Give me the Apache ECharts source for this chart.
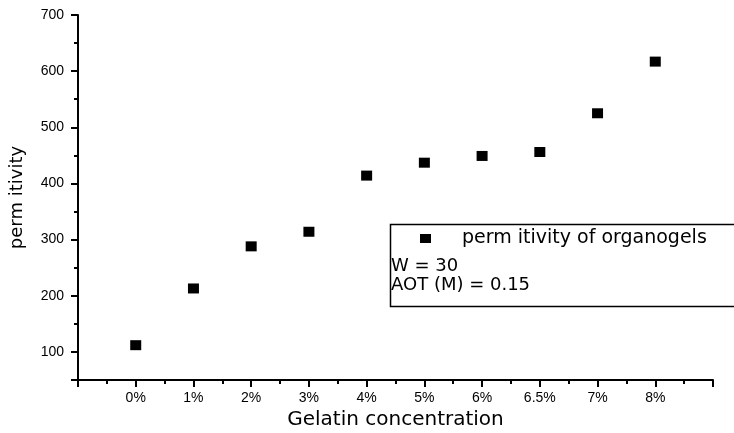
<!doctype html>
<html>
<head>
<meta charset="utf-8">
<title>permitivity</title>
<script src="https://cdn.jsdelivr.net/npm/echarts@6/dist/echarts.min.js"></script>
<style>
  html, body { margin: 0; padding: 0; background: #fff; }
  #chart { width: 734px; height: 433px; }
</style>
</head>
<body>
<div id="chart"></div>
<script>
// data
var categories = ['0%', '1%', '2%', '3%', '4%', '5%', '6%', '6.5%', '7%', '8%'];
var permitivity = [112, 213, 288, 314, 414, 437, 449, 456, 525, 617];
var yLabelValues = [100, 200, 300, 400, 500, 600, 700];
var yTickValues = [50, 100, 200, 300, 400, 500, 600, 700];
var yMinorValues = [150, 250, 350, 450, 550, 650];

var points = permitivity.map(function (v, i) { return [i, v]; });

var chart = echarts.init(document.getElementById('chart'));
var lineStyle = { color: '#000', width: 2 };

var option = {
  animation: false,
  backgroundColor: '#fff',
  grid: { left: 78, top: 15, right: 21, bottom: 53, containLabel: false, outerBoundsMode: 'none' },
  xAxis: {
    type: 'value',
    min: -1,
    max: 10,
    interval: 1,
    name: 'Gelatin concentration',
    nameLocation: 'middle',
    nameGap: 30,
    nameTextStyle: { color: '#000', fontSize: 20, fontFamily: 'DejaVu Sans' },
    axisLine: { onZero: false, lineStyle: lineStyle },
    axisTick: { length: 7, lineStyle: { color: '#000', width: 2 } },
    minorTick: { show: true, splitNumber: 2, length: 4, lineStyle: { color: '#000', width: 2 } },
    splitLine: { show: false },
    axisLabel: {
      color: '#000',
      fontSize: 14,
      fontFamily: 'Liberation Sans',
      margin: 11,
      formatter: function (v) {
        return categories[v] !== undefined ? categories[v] : '';
      }
    }
  },
  yAxis: [{
    type: 'value',
    min: 50,
    max: 700,
    name: 'perm itivity',
    nameLocation: 'middle',
    nameGap: 52,
    nameRotate: 90,
    nameTextStyle: { color: '#000', fontSize: 18, fontFamily: 'DejaVu Sans' },
    axisLine: { show: true, onZero: false, lineStyle: lineStyle },
    axisTick: { show: true, length: 7, customValues: yTickValues, lineStyle: { color: '#000', width: 2 } },
    splitLine: { show: false },
    axisLabel: {
      color: '#000',
      fontSize: 14,
      fontFamily: 'Liberation Sans',
      margin: 14,
      customValues: yLabelValues
    }
  }, {
    type: 'value',
    min: 50,
    max: 700,
    position: 'left',
    axisLine: { show: false, onZero: false },
    axisTick: { show: true, length: 4, customValues: yMinorValues, lineStyle: { color: '#000', width: 2 } },
    axisLabel: { show: false },
    splitLine: { show: false }
  }],
  legend: {
    left: 420,
    top: 229,
    padding: 0,
    itemWidth: 11,
    itemHeight: 9,
    icon: 'rect',
    itemStyle: { color: '#000', opacity: 1 },
    textStyle: { color: '#000', fontSize: 19, fontFamily: 'DejaVu Sans', padding: [0, 0, 0, 26] },
    data: ['perm itivity of organogels']
  },
  graphic: [
    {
      type: 'rect',
      left: 388,
      top: 222,
      shape: { width: 360, height: 82 },
      style: { fill: 'none', stroke: '#000', lineWidth: 1.5 },
      z: 10
    },
    {
      type: 'text',
      left: 391,
      top: 257,
      style: { text: 'W = 30', fill: '#000', fontSize: 18, fontFamily: 'DejaVu Sans' },
      z: 10
    },
    {
      type: 'text',
      left: 391,
      top: 276,
      style: { text: 'AOT (M) = 0.15', fill: '#000', fontSize: 18, fontFamily: 'DejaVu Sans' },
      z: 10
    }
  ],
  series: [{
    name: 'perm itivity of organogels',
    type: 'scatter',
    symbol: 'rect',
    symbolSize: [11, 10],
    itemStyle: { color: '#000', opacity: 1 },
    data: points
  }]
};

chart.setOption(option);
</script>
</body>
</html>
